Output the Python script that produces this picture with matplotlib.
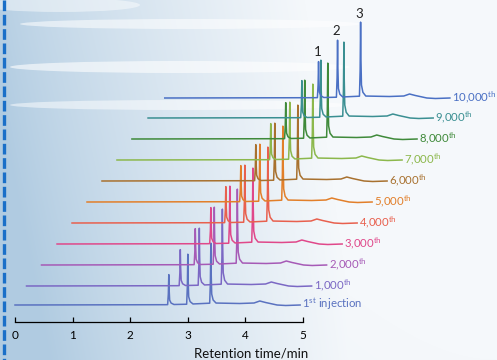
import numpy as np
import matplotlib
matplotlib.use("Agg")
import matplotlib.pyplot as plt
from matplotlib.patches import Ellipse
from matplotlib.colors import to_rgb

plt.rcParams['font.family'] = ['Lato', 'DejaVu Sans']
plt.rcParams['mathtext.fontset'] = 'custom'
plt.rcParams['mathtext.rm'] = 'Lato'
plt.rcParams['mathtext.it'] = 'Lato'

# ---------------- data ----------------
labels = ["1$^{\\mathrm{st}}$ injection", "1,000$^{\\mathrm{th}}$", "2,000$^{\\mathrm{th}}$",
          "3,000$^{\\mathrm{th}}$", "4,000$^{\\mathrm{th}}$", "5,000$^{\\mathrm{th}}$",
          "6,000$^{\\mathrm{th}}$", "7,000$^{\\mathrm{th}}$", "8,000$^{\\mathrm{th}}$",
          "9,000$^{\\mathrm{th}}$", "10,000$^{\\mathrm{th}}$"]
colors = ["#5a72c0", "#7b68c4", "#a65ab6", "#e0488a", "#e8604e", "#e27f2a",
          "#a8712f", "#8cb84c", "#3f8a3a", "#3a8f92", "#4a70c4"]
# waterfall offsets (min, signal units)
x_offsets = [0.0, 0.20, 0.46, 0.73, 0.99, 1.25, 1.51, 1.77, 2.03, 2.31, 2.60]
y_offsets = [17, 36, 57, 78, 99, 120, 141, 162, 183, 204, 224]
# peak retention times (min) and heights per injection
peak_rt = [2.67, 3.00, 3.40]
peak_h = [[30, 50, 60], [36, 57, 75], [36, 57, 74], [36, 57, 74], [36, 57, 74],
          [36, 57, 74], [36, 57, 74], [36, 57, 74], [36, 58, 74], [37, 57, 74],
          [36, 57, 74]]
# baseline profile (min, signal)
base_t = [0.0, 2.6, 3.0, 3.45, 3.9, 4.15, 4.25, 4.35, 4.55, 4.7, 4.95]
base_y = [0.0, 0.3, 0.8, 2.0, 1.5, 2.0, 4.0, 2.5, 0.0, -0.5, 0.0]
# peak profile (time from apex, fraction of height)
shape_dt = [-0.02, -0.008, 0.0, 0.006, 0.015, 0.04, 0.09]
shape_f = [0.0, 0.35, 1.0, 0.5, 0.15, 0.05, 0.0]
x_ticks = [0, 1, 2, 3, 4, 5]
peak_names = ["1", "2", "3"]

# ---------------- figure ----------------
W, H = 497, 360
fig = plt.figure(figsize=(W / 100, H / 100), dpi=100)

# background
bg = fig.add_axes([0, 0, 1, 1])
bg.set_axis_off()
xx = np.linspace(0, 1, W)[None, :]
yy = np.linspace(0, 1, H)[:, None]
c_left = np.array(to_rgb("#b0cbe1"))
c_right = np.array(to_rgb("#f5f8fb"))
t = np.clip(xx / 0.7, 0, 1) ** 0.8
t = np.clip(t - 0.25 * yy * (1 - xx) ** 2 + 0.1 * (1 - yy), 0, 1)
img = c_left[None, None, :] * (1 - t[..., None]) + c_right[None, None, :] * t[..., None]
bg.imshow(img, extent=(0, W, H, 0), aspect='auto', zorder=0)
for (cx, cy, w, h, a) in [(190, 24, 340, 10, 0.55), (180, 67, 340, 12, 0.6),
                          (180, 105, 340, 10, 0.5), (60, 5, 160, 14, 0.45)]:
    bg.add_patch(Ellipse((cx, cy), w, h, color='white', alpha=a, lw=0, zorder=1))
bg.plot([3.5, 3.5], [0, H], color="#1a6fc8", lw=2.4, ls=(0, (3.2, 1.1)), zorder=2)
bg.set_xlim(0, W)
bg.set_ylim(H, 0)

# main axes: x in minutes, y in signal units
ppm = 57.6
x0 = 15
ax = fig.add_axes([0, 0, 1, 1])
ax.patch.set_alpha(0)
ax.set_xlim(-x0 / ppm, (W - x0) / ppm)
ax.set_ylim(322 - H, 322)

for i in range(len(labels)):
    tt = list(base_t)
    for rt, h in zip(peak_rt, peak_h[i]):
        tt += [rt + d for d in shape_dt]
    tt = np.array(sorted(tt))
    yv = np.interp(tt, base_t, base_y)
    for rt, h in zip(peak_rt, peak_h[i]):
        yv = yv + np.interp(tt - rt, shape_dt, shape_f, left=0, right=0) * h
    ax.plot(tt + x_offsets[i], yv + y_offsets[i], color=colors[i], lw=1.1,
            solid_joinstyle='round', zorder=3 + i * 0.01)
    ax.text(x_offsets[i] + base_t[-1] + 0.04, y_offsets[i] + base_y[-1] + 1, labels[i],
            color=colors[i], fontsize=8.2, ha='left', va='center')

for rt, h, nm in zip(peak_rt, peak_h[-1], peak_names):
    ax.text(x_offsets[-1] + rt - 0.02, y_offsets[-1] + h + 10, nm, fontsize=9.5,
            color="#222222", ha='center', va='center')

for s in ['top', 'right', 'left']:
    ax.spines[s].set_visible(False)
ax.spines['bottom'].set_position(('data', 0))
ax.spines['bottom'].set_bounds(0, 5)
ax.spines['bottom'].set_linewidth(0.9)
ax.set_yticks([])
ax.set_xticks(x_ticks)
ax.set_xticklabels([str(v) for v in x_ticks])
ax.tick_params(axis='x', direction='in', length=3.5, width=0.9, pad=6, labelsize=8.5,
               colors='black')
fig.text(251 / W, 1 - 354 / H, "Retention time/min", ha='center', va='center',
         fontsize=9.5, color='#111111')

fig.savefig("out.png", dpi=100)
